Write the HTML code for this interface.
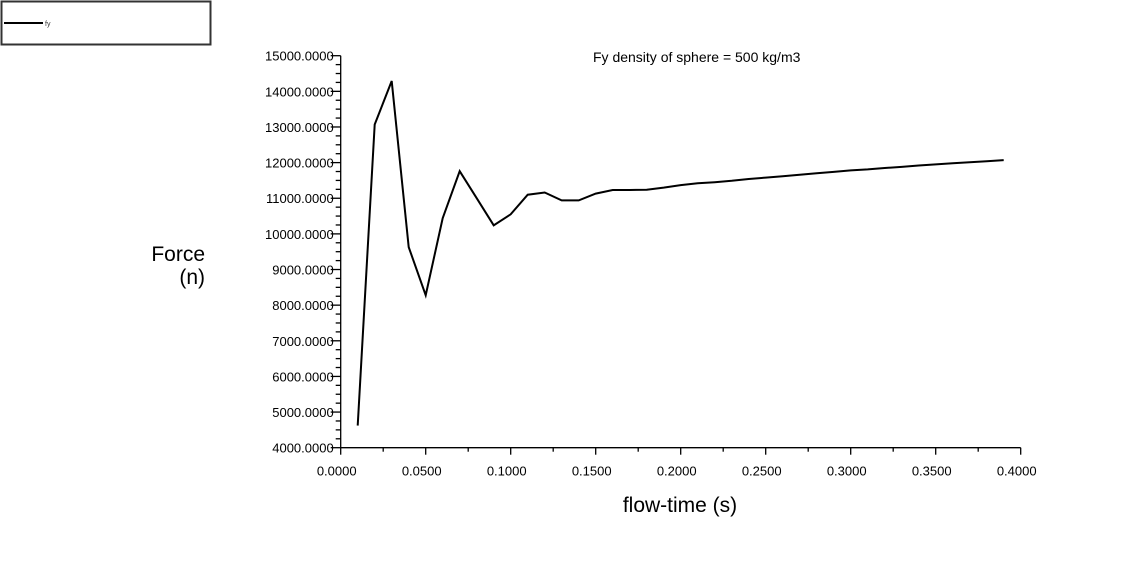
<!DOCTYPE html>
<html><head><meta charset="utf-8"><style>
body{margin:0;background:#fff;width:1135px;height:560px;overflow:hidden;font-family:"Liberation Sans",Arial,sans-serif}
svg text{font-family:"Liberation Sans",Arial,sans-serif}
</style></head><body>
<svg id="chart" width="1135" height="560" xmlns="http://www.w3.org/2000/svg">
<g>
<rect x="1.5" y="1.5" width="209" height="43" fill="#fff" stroke="#333" stroke-width="2"/>
<line x1="4" y1="23" x2="43" y2="23" stroke="#000" stroke-width="2"/>
<text x="45" y="26" font-size="7" fill="#333">fy</text>
</g>
<text x="593" y="62" font-size="14" fill="#000">Fy  density of sphere = 500  kg/m3</text>
<text x="205" y="261" font-size="21" text-anchor="end">Force</text>
<text x="205" y="284" font-size="21" text-anchor="end">(n)</text>
<text x="680" y="512" font-size="21" text-anchor="middle">flow-time (s)</text>
<g id="axes"></g>
<path id="line" fill="none" stroke="#000" stroke-width="2" stroke-linejoin="miter"/>
</svg>
<script>
const xValues=[0.01,0.02,0.03,0.04,0.05,0.06,0.07,0.08,0.09,0.10,0.11,0.12,0.13,0.14,0.15,0.16,0.17,0.18,0.19,0.20,0.21,0.22,0.23,0.24,0.25,0.26,0.27,0.28,0.29,0.30,0.31,0.32,0.33,0.34,0.35,0.36,0.37,0.38,0.39];
const fyValues=[4620,13070,14290,9630,8280,10440,11760,11000,10240,10550,11100,11160,10940,10940,11130,11230,11230,11240,11300,11370,11420,11450,11490,11540,11580,11620,11660,11700,11740,11780,11810,11850,11880,11920,11950,11980,12010,12040,12070];
const xTicks=[0,0.05,0.1,0.15,0.2,0.25,0.3,0.35,0.4];
const yTicks=[4000,5000,6000,7000,8000,9000,10000,11000,12000,13000,14000,15000];
const X0=340.7,X1=1020.7,Y0=447.7,Y1=55.7;
const xs=v=>X0+(v-0)/0.4*(X1-X0);
const ys=v=>Y0-(v-4000)/11000*(Y0-Y1);
const NS="http://www.w3.org/2000/svg";
const g=document.getElementById('axes');
function ln(x1,y1,x2,y2,name){const l=document.createElementNS(NS,'line');l.setAttribute('x1',x1);l.setAttribute('y1',y1);l.setAttribute('x2',x2);l.setAttribute('y2',y2);l.setAttribute('stroke','#000');l.setAttribute('stroke-width',1.3);


g.appendChild(l);}
function tx(x,y,s,anchor,name){const t=document.createElementNS(NS,'text');t.setAttribute('x',x);t.setAttribute('y',y);t.setAttribute('font-size','13');t.setAttribute('text-anchor',anchor);t.textContent=s;


g.appendChild(t);}
ln(X0,Y1,X0,Y0,'y-axis');
ln(X0,Y0,X1,Y0,'x-axis');
yTicks.forEach((v,i)=>{const y=ys(v);ln(X0-10,y,X0,y,'y-tick');tx(X0-7,y+5,v.toFixed(4),'end','y-tick-label');
if(i<yTicks.length-1){for(let k=1;k<4;k++){const yy=ys(v+k*250);ln(X0-5,yy,X0,yy,'y-minor-tick');}}});
xTicks.forEach((v,i)=>{const x=xs(v);ln(x,Y0,x,Y0+7,'x-tick');tx(x-4,Y0+28,v.toFixed(4),'middle','x-tick-label');
if(i<xTicks.length-1){const xm=xs(v+0.025);ln(xm,Y0,xm,Y0+4,'x-minor-tick');}});
document.getElementById('line').setAttribute('d',xValues.map((v,i)=>(i?'L':'M')+xs(v).toFixed(1)+','+ys(fyValues[i]).toFixed(1)).join(''));
</script>
</body></html>
